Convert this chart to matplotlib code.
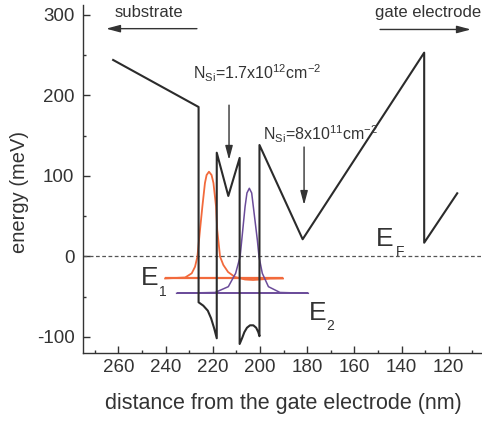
import matplotlib
matplotlib.use('Agg')
import matplotlib.pyplot as plt
from matplotlib.ticker import MultipleLocator

plt.rcParams['font.family'] = ['Liberation Sans', 'DejaVu Sans']
plt.rcParams['mathtext.fontset'] = 'custom'
plt.rcParams['mathtext.rm'] = 'Liberation Sans'
plt.rcParams['mathtext.it'] = 'Liberation Sans:italic'
plt.rcParams['axes.unicode_minus'] = False

# conduction band edge (nm, meV)
band_x = [262.2, 226.0, 226.0, 224.0, 222.1, 220.7, 219.4, 218.3, 218.3, 213.4, 208.6,
          208.6, 207.5, 206.6, 205.5, 204.2, 202.8, 201.6, 200.7, 200.2, 200.2,
          181.9, 130.4, 130.4, 116.4]
band_e = [244.1, 185.7, -56.9, -61.1, -67.3, -76.8, -89.2, -101.6, 128.9, 75.2, 122.4,
          -108.7, -101.0, -94.0, -88.5, -85.5, -85.5, -88.5, -94.0, -99.0, 138.5,
          21.4, 253.2, 17.1, 78.5]

# subband levels
e1_level = -27.3
e1_span = (240.2, 190.2)
e2_level = -45.7
e2_span = (235.3, 179.5)

# wavefunctions drawn on top of their levels
psi1_x = [240.2, 231.7, 228.9, 227.5, 226.5, 225.4, 224.4, 223.3, 222.6, 221.6, 220.5,
          219.7, 218.6, 218.1, 216.9, 215.5, 213.5, 210.6, 206.3, 202.9, 200.0, 195.7, 190.2]
psi1_e = [-27.3, -26.1, -20.9, -12.7, -0.2, 32.9, 61.9, 91.3, 101.2, 105.3, 101.2,
          91.3, 61.9, 32.9, -0.2, -10.6, -19.3, -25.5, -28.6, -29.2, -28.6, -27.5, -27.3]
psi2_x = [235.3, 219.0, 213.4, 210.3, 208.4, 207.7, 206.3, 205.5, 204.5, 203.5, 202.8,
          201.1, 200.4, 199.0, 196.4, 191.5, 179.5]
psi2_e = [-45.7, -44.7, -37.5, -20.9, -0.2, 20.5, 61.9, 78.9, 84.7, 78.9, 61.9,
          20.5, -0.2, -20.9, -37.5, -44.7, -45.7]

fig = plt.figure(figsize=(4.82, 4.22), dpi=100)
ax = fig.add_axes([0.1716, 0.1633, 0.8284, 0.8241])

orange = '#f26a3c'
purple = '#6b4c9a'
ink = '#2b2b2b'

ax.axhline(0, color='#555555', lw=0.9, ls=(0, (3, 2)))
ax.hlines(e1_level, *e1_span, color=orange, lw=1.6)
ax.hlines(e2_level, *e2_span, color=purple, lw=1.4)
ax.plot(psi1_x, psi1_e, color=orange, lw=1.3)
ax.plot(psi2_x, psi2_e, color=purple, lw=1.1)
ax.plot(band_x, band_e, color=ink, lw=1.5)

ax.set_xlim(275.1, 105.9)
ax.set_ylim(-120, 312)
ax.xaxis.set_major_locator(MultipleLocator(20))
ax.xaxis.set_minor_locator(MultipleLocator(10))
ax.yaxis.set_major_locator(MultipleLocator(100))
ax.yaxis.set_minor_locator(MultipleLocator(50))
ax.tick_params(which='both', direction='in', color='#333333', width=1)
ax.tick_params(which='major', length=5)
ax.tick_params(which='minor', length=2.5)
ax.tick_params(axis='x', which='major', labelsize=13.5, labelcolor='#333333', pad=4)
ax.tick_params(axis='y', which='major', labelsize=13.5, labelcolor='#333333', pad=6)
for s in ['top', 'right']:
    ax.spines[s].set_visible(False)
for s in ['left', 'bottom']:
    ax.spines[s].set_color('#333333')
    ax.spines[s].set_linewidth(1)

fig.text(283 / 482, 1 - 403 / 422, 'distance from the gate electrode (nm)',
         ha='center', va='center', fontsize=15.5, color='#333333')
fig.text(20 / 482, 1 - 192 / 422, 'energy (meV)', rotation=90,
         ha='center', va='center', fontsize=14.5, color='#333333')

# direction arrows
arrow = dict(arrowstyle='-|>,head_length=0.6,head_width=0.16', color='#333333',
             lw=1, shrinkA=0, shrinkB=0, mutation_scale=14)
ax.annotate('', xy=(265.2, 283), xytext=(226.7, 283), arrowprops=arrow)
ax.annotate('', xy=(110.6, 282), xytext=(149.1, 282), arrowprops=arrow)
ax.text(261.4, 303, 'substrate', fontsize=12, color='#333333', va='center', ha='left')
ax.text(151.3, 303, 'gate electrode', fontsize=12, color='#333333', va='center', ha='left')

# doping annotations
ax.annotate('', xy=(213.1, 120), xytext=(213.1, 188), arrowprops=arrow)
ax.annotate('', xy=(181.3, 64), xytext=(181.3, 136), arrowprops=arrow)
ax.text(228.2, 220.5, r'N$_\mathrm{Si}$=1.7x10$^{12}$cm$^{-2}$', fontsize=11.5,
        color='#333333', va='baseline', ha='left')
ax.text(198.6, 144.7, r'N$_\mathrm{Si}$=8x10$^{11}$cm$^{-2}$', fontsize=11.5,
        color='#333333', va='baseline', ha='left')

# level labels
ax.text(150.8, 13.4, 'E', fontsize=19, color='#333333', va='baseline', ha='left')
ax.text(142.2, 0.5, 'F', fontsize=10, color='#333333', va='baseline', ha='left')
ax.text(250.5, -35.4, 'E', fontsize=19, color='#333333', va='baseline', ha='left')
ax.text(242.8, -49.1, '1', fontsize=10, color='#333333', va='baseline', ha='left')
ax.text(179.1, -78.9, 'E', fontsize=19, color='#333333', va='baseline', ha='left')
ax.text(172.0, -91.3, '2', fontsize=10, color='#333333', va='baseline', ha='left')

fig.savefig('out.png', dpi=100)
